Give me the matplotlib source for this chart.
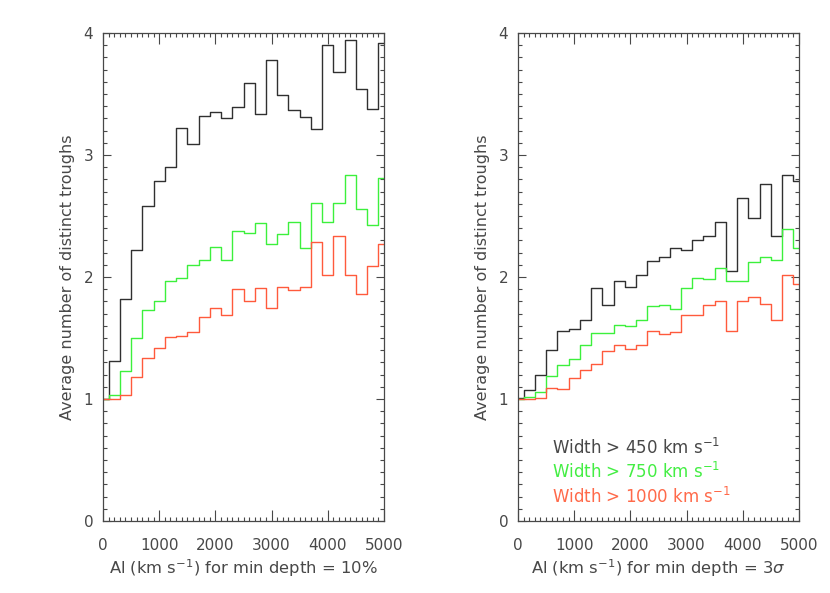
import numpy as np
import matplotlib
matplotlib.use("Agg")
import matplotlib.pyplot as plt
from matplotlib.ticker import MultipleLocator

# AI bins (km/s)
ai = [0, 200, 400, 600, 800, 1000, 1200, 1400, 1600, 1800, 2000, 2200, 2400,
      2600, 2800, 3000, 3200, 3400, 3600, 3800, 4000, 4200, 4400, 4600, 4800, 5000]

# min depth = 10%
left_450 = [1.00, 1.31, 1.82, 2.22, 2.58, 2.79, 2.90, 3.22, 3.09, 3.32, 3.35, 3.30, 3.39,
            3.59, 3.34, 3.78, 3.49, 3.37, 3.31, 3.21, 3.90, 3.68, 3.94, 3.54, 3.38, 3.92]
left_750 = [1.00, 1.03, 1.23, 1.50, 1.73, 1.80, 1.97, 1.99, 2.10, 2.14, 2.25, 2.14, 2.38,
            2.36, 2.44, 2.27, 2.35, 2.45, 2.24, 2.61, 2.45, 2.61, 2.84, 2.56, 2.43, 2.81]
left_1000 = [1.00, 1.00, 1.03, 1.18, 1.34, 1.42, 1.51, 1.52, 1.55, 1.67, 1.75, 1.69, 1.90,
             1.80, 1.91, 1.75, 1.92, 1.89, 1.92, 2.29, 2.02, 2.34, 2.02, 1.86, 2.09, 2.27]

# min depth = 3 sigma
right_450 = [1.01, 1.07, 1.20, 1.40, 1.56, 1.57, 1.65, 1.91, 1.77, 1.97, 1.92, 2.02, 2.13,
             2.16, 2.24, 2.22, 2.30, 2.34, 2.45, 2.05, 2.65, 2.48, 2.76, 2.34, 2.84, 2.79]
right_750 = [1.00, 1.02, 1.06, 1.19, 1.28, 1.33, 1.44, 1.54, 1.54, 1.61, 1.60, 1.65, 1.76,
             1.77, 1.74, 1.91, 1.99, 1.98, 2.07, 1.97, 1.97, 2.12, 2.16, 2.14, 2.39, 2.24]
right_1000 = [1.00, 1.00, 1.01, 1.09, 1.08, 1.17, 1.24, 1.29, 1.39, 1.44, 1.41, 1.44, 1.56,
              1.53, 1.55, 1.69, 1.69, 1.77, 1.80, 1.56, 1.80, 1.84, 1.78, 1.65, 2.02, 1.94]

labels = [r"Width > 450 km s$^{-1}$", r"Width > 750 km s$^{-1}$", r"Width > 1000 km s$^{-1}$"]
colors = ["#303030", "#3cf03c", "#ff5a3c"]
text_colors = ["#484848", "#44ee44", "#ff6a4a"]

fg = "#484848"
plt.rcParams['font.family'] = ['DejaVu Sans']
plt.rcParams['mathtext.fontset'] = 'dejavusans'

fig = plt.figure(figsize=(8.3, 5.93), dpi=100)
ax1 = fig.add_axes([103 / 830, 1 - 521 / 593, 281 / 830, 488 / 593])
ax2 = fig.add_axes([518 / 830, 1 - 521 / 593, 281 / 830, 488 / 593])


def style(ax, xlabel):
    ax.set_xlim(0, 5000)
    ax.set_ylim(0, 4)
    ax.xaxis.set_major_locator(MultipleLocator(1000))
    ax.xaxis.set_minor_locator(MultipleLocator(100))
    ax.yaxis.set_major_locator(MultipleLocator(1))
    ax.yaxis.set_minor_locator(MultipleLocator(0.1))
    ax.tick_params(which='both', direction='in', top=True, right=True,
                   colors=fg, labelcolor=fg, labelsize=11, width=0.8)
    ax.tick_params(axis='x', which='major', length=8, pad=12)
    ax.tick_params(axis='y', which='major', length=6, pad=7)
    ax.tick_params(which='minor', length=3)
    for s in ax.spines.values():
        s.set_color(fg)
        s.set_linewidth(0.9)
    ax.set_xlabel(xlabel, color=fg, fontsize=11.8, labelpad=3)
    ax.set_ylabel("Average number of distinct troughs", color=fg, fontsize=11.5, labelpad=6)


ax1.step(ai, left_450, where='mid', color=colors[0], lw=1)
ax1.step(ai, left_750, where='mid', color=colors[1], lw=1)
ax1.step(ai, left_1000, where='mid', color=colors[2], lw=1)
style(ax1, r"Al (km s$^{-1}$) for min depth = 10%")

ax2.step(ai, right_450, where='mid', color=colors[0], lw=1)
ax2.step(ai, right_750, where='mid', color=colors[1], lw=1)
ax2.step(ai, right_1000, where='mid', color=colors[2], lw=1)
style(ax2, r"Al (km s$^{-1}$) for min depth = 3$\sigma$")

for i, lab in enumerate(labels):
    ax2.text(610, 0.60 - 0.20 * i, lab, color=text_colors[i], fontsize=12,
             va='center', ha='left')

fig.savefig("out.png", dpi=100)
